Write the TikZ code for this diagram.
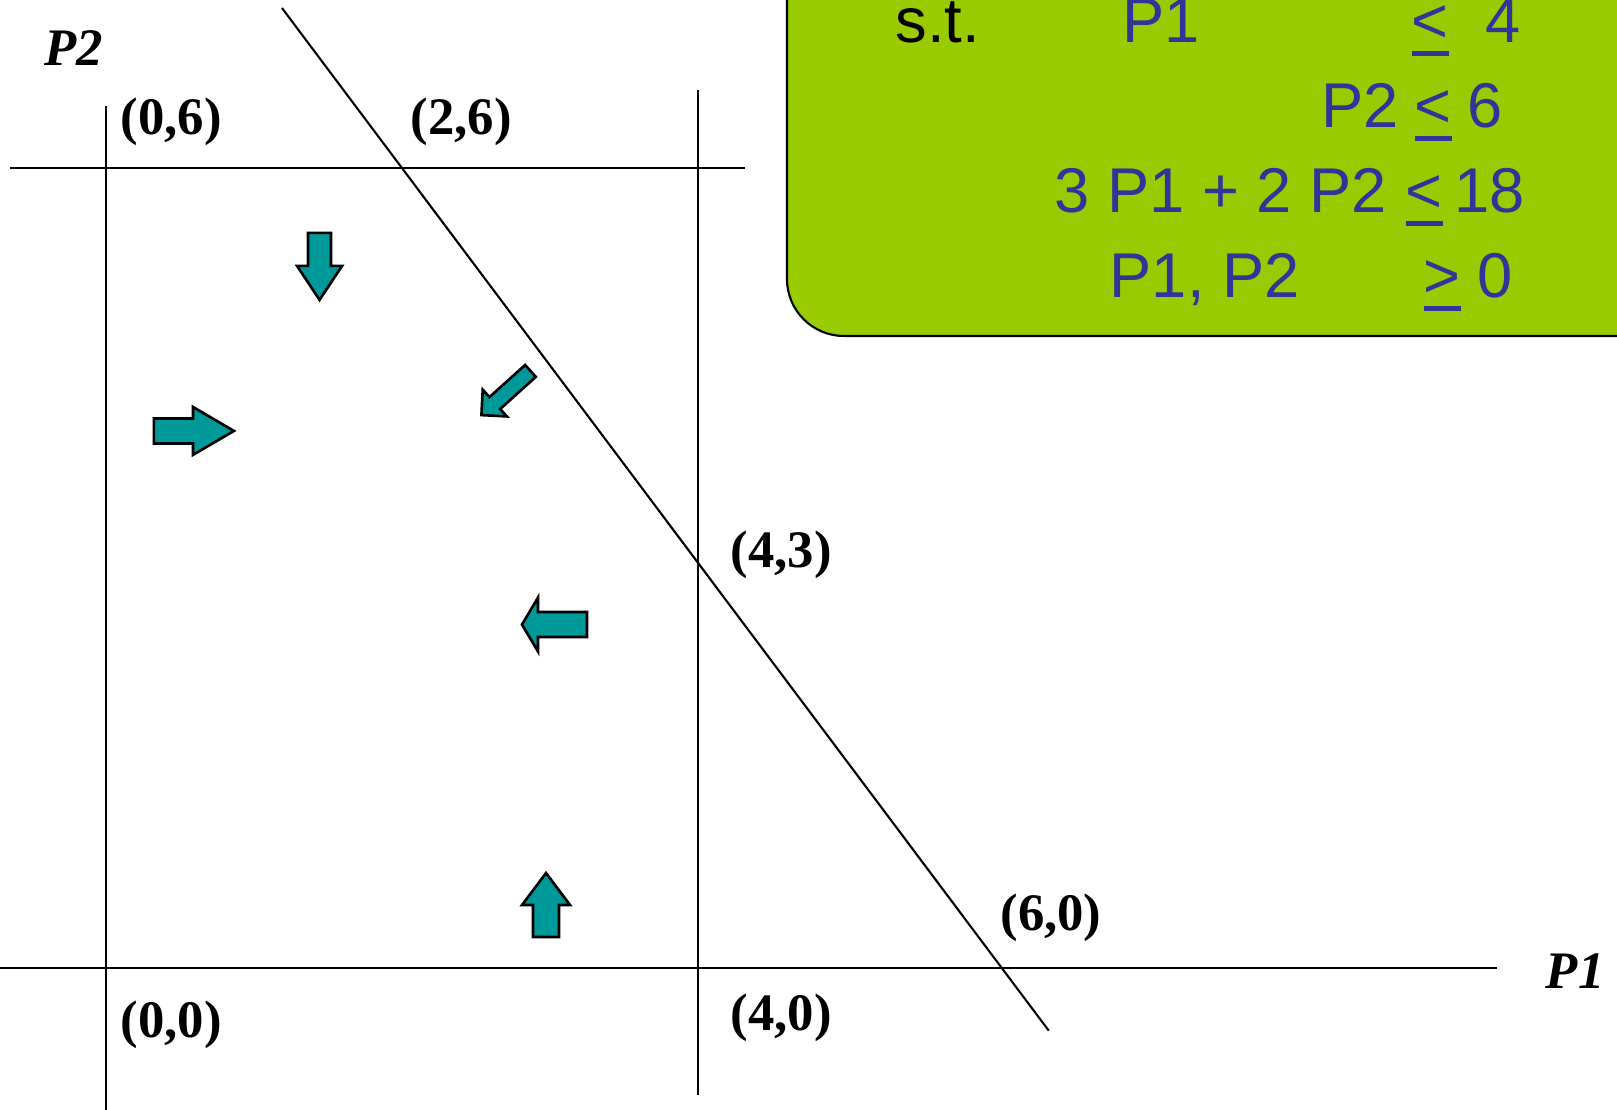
\documentclass[tikz,border=0pt]{standalone}
\usepackage{xcolor}
\usepackage{fontspec}
\usepackage{tikz}
\setmainfont{Liberation Serif}
\newfontfamily\boxfont{Liberation Sans}
\definecolor{boxgreen}{RGB}{153,204,0}
\definecolor{consblue}{RGB}{51,51,153}
\definecolor{arrteal}{RGB}{0,153,153}
\newcommand{\ulrel}[1]{\setbox0\hbox{#1}\rlap{\rule[-3.6pt]{\wd0}{1.3pt}}\box0}
\tikzset{
  bound/.style={line width=0.6pt, color=black},
  flowfill/.style={draw=black, fill=arrteal, line width=0.75pt, line join=miter}
}
\newcommand{\flowarrow}[6]{%
  \begin{scope}[shift={(#1)}, rotate=#2, x=0.1mm, y=0.1mm]
    \draw[flowfill] (0,#4) -- ({#3-#6},#4) -- ({#3-#6},#5) -- (#3,0)
      -- ({#3-#6},-#5) -- ({#3-#6},-#4) -- (0,-#4) -- cycle;
  \end{scope}}

\begin{document}
\begin{tikzpicture}[x=1.48cm, y=1.3333cm,
  vlbl/.style={font=\fontsize{15}{17}\selectfont\bfseries, inner sep=0pt},
  axlbl/.style={font=\fontsize{15}{17}\selectfont\bfseries\itshape, inner sep=0pt},
  cons/.style={font=\boxfont\fontsize{18}{21}\selectfont, text=consblue, inner sep=0pt, anchor=base west}
]
\useasboundingbox (-0.716,-1.0575) rectangle (10.209,7.26);

% Constraint box
\draw[fill=boxgreen, line width=0.6pt, rounded corners=0.57cm]
  (10.5,8) -- (4.601,8) -- (4.601,4.74) -- (10.5,4.74);
\node[cons, text=black] (st) at (5.331,6.9375) {s.t.};
\node[cons] (c1l) at (6.865,6.9375) {P1};
\node[cons] (c1r) at (8.818,6.9375) {\ulrel{<}};
\node[cons] (c1v) at (9.318,6.9375) {4};
\node[cons] (c2l) at (8.209,6.3) {P2};
\node[cons] (c2r) at (8.838,6.3) {\ulrel{<}};
\node[cons] (c2v) at (9.196,6.3) {6};
\node[cons] (c3l) at (6.405,5.6625) {3 P1 + 2 P2};
\node[cons] (c3r) at (8.777,5.6625) {\ulrel{<}};
\node[cons] (c3v) at (9.108,5.6625) {18};
\node[cons] (c4l) at (6.777,5.025) {P1, P2};
\node[cons] (c4r) at (8.899,5.025) {\ulrel{>}};
\node[cons] (c4v) at (9.264,5.025) {0};

% Axes and constraint lines
\coordinate (p1a) at (-0.716,0);
\coordinate (p1b) at (9.399,0);
\coordinate (p2a) at (0,6.465);
\coordinate (p2b) at (0,-1.1);
\coordinate (c6a) at (-0.649,6);
\coordinate (c6b) at (4.318,6);
\coordinate (c4a) at (4,6.585);
\coordinate (c4b) at (4,-0.9525);
\coordinate (c18a) at (1.189,7.2);
\coordinate (c18b) at (6.37,-0.47);
\draw[bound] (p1a) -- (p1b);
\draw[bound] (p2a) -- (p2b);
\draw[bound] (c6a) -- (c6b);
\draw[bound] (c4a) -- (c4b);
\draw[bound] (c18a) -- (c18b);

% Labels
\node[axlbl] (lP2) at (-0.216,6.9) {P2};
\node[axlbl] (lP1) at (9.926,-0.0225) {P1};
\node[vlbl] (v06) at (0.44,6.349) {(0,6)};
\node[vlbl] (v26) at (2.399,6.349) {(2,6)};
\node[vlbl] (v43) at (4.561,3.098) {(4,3)};
\node[vlbl] (v60) at (6.385,0.375) {(6,0)};
\node[vlbl] (v00) at (0.44,-0.4275) {(0,0)};
\node[vlbl] (v40) at (4.561,-0.375) {(4,0)};

% Arrows
\flowarrow{1.443,5.513}{-90}{67}{11.5}{22.5}{34}
\flowarrow{0.324,4.028}{0}{80}{12.5}{24}{41}
\flowarrow{2.868,4.478}{222}{66}{8}{18}{18}
\flowarrow{3.25,2.576}{180}{65}{12.5}{27}{16}
\flowarrow{2.973,0.2325}{90}{64}{13}{24}{32}
\end{tikzpicture}
\end{document}
